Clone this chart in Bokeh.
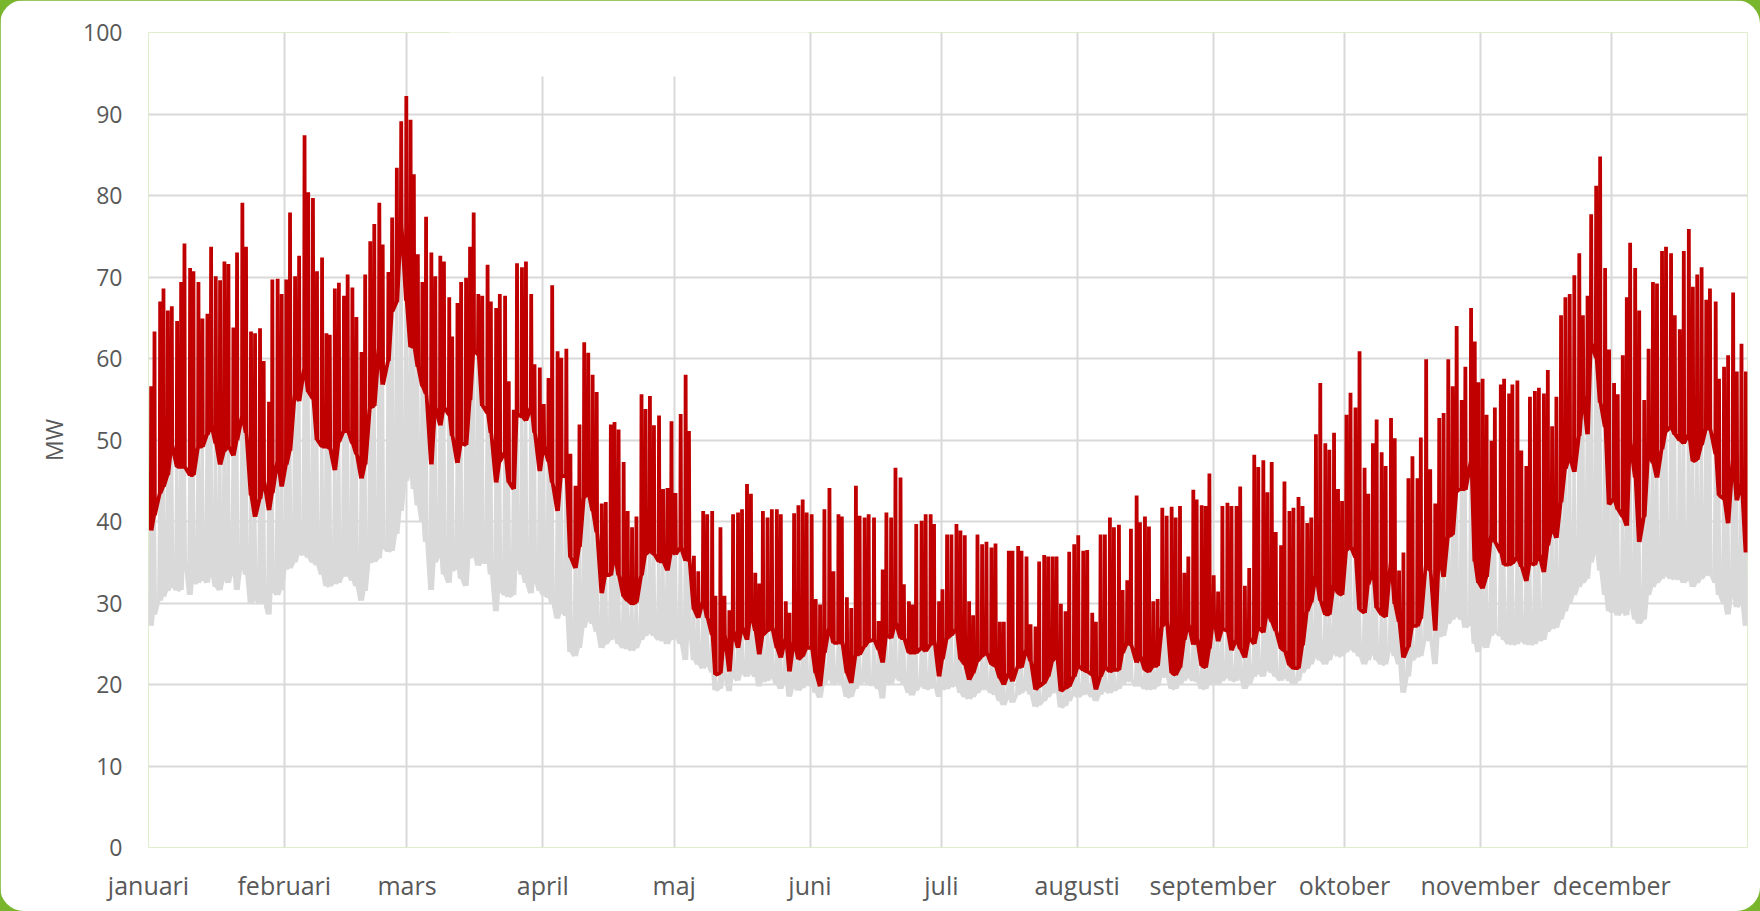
from bokeh.plotting import figure
from bokeh.models import Range1d, FixedTicker, BoxAnnotation, GlobalInlineStyleSheet
from bokeh.embed import file_html
from bokeh.resources import INLINE

# ---------------- data (MW, one entry per day) ----------------
months = ["januari", "februari", "mars", "april", "maj", "juni", "juli",
          "augusti", "september", "oktober", "november", "december"]
month_start = [0, 31, 59, 90, 120, 151, 181, 212, 243, 273, 304, 334]
days_in_month = [31, 28, 31, 30, 31, 30, 31, 31, 30, 31, 30, 31]
y_ticks = [0, 10, 20, 30, 40, 50, 60, 70, 80, 90, 100]

# time of each day's peak, in days after the start of its month
peak_offset = [
    # jan
    0.61, 1.37, 2.66, 3.42, 4.41, 5.32, 6.53, 7.45, 8.21, 9.50, 10.26, 11.40, 12.31, 13.45, 14.29, 15.35,
    16.34, 17.33, 18.24, 19.38, 20.21, 21.43, 22.26, 23.40, 24.32, 25.46, 26.29, 27.51, 28.27, 29.48, 30.40,
    # feb
    0.46, 1.31, 2.46, 3.38, 4.62, 5.46, 6.54, 7.46, 8.62, 9.62, 10.38, 11.54, 12.46, 13.62, 14.46, 15.54,
    16.46, 17.62, 18.46, 19.62, 20.54, 21.69, 22.46, 23.77, 24.62, 25.69, 26.69, 27.85,
    # mar
    0.82, 1.57, 2.48, 3.53, 4.36, 5.57, 6.47, 7.61, 8.44, 9.65, 10.32, 11.53, 12.36, 13.49, 14.40, 15.23,
    16.29, 17.19, 18.40, 19.15, 20.36, 21.19, 22.40, 23.23, 24.37, 25.12, 26.25, 27.16, 28.36, 29.12, 30.32,
    # apr
    0.23, 1.31, 2.15, 3.38, 4.23, 5.38, 6.31, 7.46, 8.38, 9.46, 10.38, 11.38, 12.31, 13.46, 14.38, 15.54,
    16.38, 17.31, 18.46, 19.38, 20.38, 21.38, 22.54, 23.46, 24.46, 25.38, 26.54, 27.46, 28.46, 29.38,
    # maj
    0.30, 1.48, 2.61, 3.37, 4.50, 5.49, 6.62, 7.53, 8.67, 9.42, 10.56, 11.47, 12.60, 13.44, 14.57, 15.48,
    16.62, 17.52, 18.51, 19.42, 20.25, 21.31, 22.29, 23.43, 24.34, 25.47, 26.31, 27.37, 28.35, 29.33, 30.24,
    # jun
    0.38, 1.30, 2.30, 3.29, 4.44, 5.36, 6.50, 7.27, 8.42, 9.41, 10.48, 11.32, 12.47, 13.39, 14.61, 15.68,
    16.60, 17.44, 18.52, 19.51, 20.66, 21.42, 22.57, 23.34, 24.25, 25.48, 26.40, 27.54, 28.31, 29.46,
    # jul
    0.23, 1.29, 2.28, 3.43, 4.34, 5.33, 6.32, 7.24, 8.23, 9.29, 10.28, 11.42, 12.34, 13.33, 14.24, 15.38,
    16.22, 17.52, 18.28, 19.42, 20.34, 21.48, 22.31, 23.46, 24.37, 25.36, 26.28, 27.27, 28.33, 29.17, 30.31,
    # aug
    0.23, 1.37, 2.28, 3.43, 4.26, 5.33, 6.32, 7.46, 8.38, 9.52, 10.36, 11.42, 12.26, 13.56, 14.32, 15.46,
    16.37, 17.36, 18.35, 19.42, 20.41, 21.55, 22.47, 23.46, 24.45, 25.36, 26.50, 27.26, 28.41, 29.33, 30.17,
    # sep
    0.15, 1.15, 2.14, 3.29, 4.21, 5.36, 6.20, 7.27, 8.26, 9.41, 10.33, 11.48, 12.40, 13.39, 14.31, 15.53,
    16.30, 17.44, 18.36, 19.51, 20.43, 21.50, 22.42, 23.49, 24.48, 25.63, 26.55, 27.62, 28.53, 29.45,
    # okt
    0.46, 1.38, 2.52, 3.44, 4.59, 5.43, 6.50, 7.34, 8.49, 9.40, 10.63, 11.47, 12.46, 13.46, 14.60, 15.52,
    16.67, 17.43, 18.65, 19.57, 20.72, 21.64, 22.63, 23.70, 24.69, 25.61, 26.76, 27.60, 28.90, 29.74, 30.58,
    # nov
    0.53, 1.44, 2.57, 3.33, 4.69, 5.44, 6.58, 7.33, 8.47, 9.37, 10.51, 11.34, 12.47, 13.38, 14.51, 15.42,
    16.40, 17.38, 18.44, 19.43, 20.41, 21.47, 22.60, 23.43, 24.49, 25.32, 26.46, 27.36, 28.50, 29.40,
    # dec
    0.54, 1.38, 2.53, 3.45, 4.21, 5.36, 6.28, 7.43, 8.42, 9.42, 10.34, 11.49, 12.40, 13.55, 14.40, 15.54,
    16.46, 17.61, 18.53, 19.52, 20.52, 21.59, 22.43, 23.74, 24.50, 25.65, 26.57, 27.72, 28.56, 29.63, 30.63,
]

# daily peak of the red series
red_peak = [
    # jan
    56.6, 63.3, 67.0, 68.6, 65.9, 66.4, 64.6, 69.4, 74.1, 71.1, 70.7, 69.4, 64.9, 65.5, 73.7, 70.1,
    69.6, 71.9, 71.6, 63.8, 73.0, 79.1, 73.7, 63.3, 63.1, 63.7, 59.7, 54.7, 69.7, 69.8, 67.9,
    # feb
    69.7, 77.9, 70.1, 72.6, 87.4, 80.4, 79.7, 70.7, 72.4, 63.1, 62.9, 68.6, 69.3, 67.7, 70.3, 68.7,
    65.1, 60.8, 70.3, 74.4, 76.5, 79.1, 74.0, 70.6, 77.3, 83.4, 89.1, 92.2,
    # mar
    89.3, 82.6, 72.8, 69.4, 77.4, 73.0, 70.1, 72.6, 71.9, 67.5, 62.7, 66.8, 69.4, 69.9, 73.7, 77.9,
    67.9, 67.7, 71.5, 67.0, 66.2, 67.9, 67.7, 57.2, 53.7, 71.7, 71.2, 71.9, 67.9, 59.3, 58.9,
    # apr
    54.4, 57.6, 69.0, 60.9, 60.1, 61.2, 48.3, 44.4, 51.9, 62.0, 60.7, 58.0, 55.9, 42.2, 42.4, 51.9,
    52.2, 51.3, 47.3, 41.3, 39.3, 40.6, 55.6, 53.8, 55.4, 51.8, 53.0, 44.0, 44.1, 52.3,
    # maj
    43.5, 53.2, 58.0, 51.1, 35.8, 33.9, 41.3, 40.9, 41.3, 30.9, 39.3, 30.9, 29.1, 40.9, 41.1, 41.5,
    44.6, 43.4, 33.7, 32.4, 41.3, 40.5, 41.5, 41.5, 40.9, 30.2, 28.8, 41.0, 42.0, 42.7, 41.1,
    # jun
    40.9, 30.5, 29.8, 41.5, 44.1, 33.9, 40.9, 40.6, 30.7, 29.4, 44.4, 40.7, 40.5, 40.9, 40.5, 27.8,
    34.1, 41.1, 40.5, 46.6, 45.4, 32.3, 30.2, 29.8, 39.7, 40.1, 40.9, 40.9, 39.7, 30.2,
    # jul
    31.7, 38.4, 38.4, 39.7, 38.9, 38.3, 30.2, 28.5, 38.4, 37.2, 37.5, 36.8, 37.3, 27.7, 27.7, 36.4,
    36.4, 37.0, 36.4, 35.7, 27.4, 27.1, 35.1, 35.9, 35.7, 35.7, 35.7, 29.9, 29.0, 36.3, 37.2,
    # aug
    38.3, 36.4, 36.5, 28.8, 27.7, 38.4, 38.4, 40.5, 39.3, 39.6, 31.6, 32.8, 39.1, 43.2, 39.9, 40.6,
    39.4, 30.2, 30.5, 41.7, 40.7, 41.8, 40.5, 41.9, 33.7, 35.7, 43.9, 42.7, 42.0, 41.9, 45.9,
    # sep
    33.4, 31.4, 41.9, 42.3, 41.9, 41.9, 44.3, 32.1, 34.3, 48.2, 46.7, 47.5, 43.6, 47.3, 38.7, 37.1,
    44.9, 41.3, 41.7, 43.0, 41.9, 39.8, 40.5, 50.7, 57.0, 49.6, 48.8, 50.9, 44.0, 42.5,
    # okt
    53.1, 55.8, 54.0, 60.9, 46.6, 43.4, 49.6, 52.5, 48.5, 46.8, 52.7, 50.2, 34.0, 36.2, 45.3, 48.0,
    45.3, 50.3, 59.9, 46.4, 42.2, 52.7, 53.3, 59.9, 56.6, 64.0, 54.9, 59.0, 66.2, 62.1, 57.1,
    # nov
    57.5, 53.1, 49.9, 54.0, 56.8, 57.5, 55.7, 56.8, 57.3, 48.7, 46.8, 55.3, 56.0, 56.4, 55.7, 58.6,
    51.7, 55.3, 65.3, 67.5, 67.9, 70.2, 72.9, 65.3, 67.7, 77.7, 81.2, 84.8, 71.1, 61.1,
    # dec
    57.0, 55.6, 60.4, 67.5, 74.2, 71.1, 65.9, 54.9, 61.2, 69.4, 69.2, 73.2, 73.7, 72.9, 65.3, 63.6,
    73.2, 75.9, 68.8, 70.3, 71.2, 67.2, 68.6, 67.0, 57.5, 59.0, 60.4, 68.1, 58.4, 61.8, 58.4,
]

# daily base level of the red series
red_base = [
    # jan
    38.9, 40.8, 43.5, 44.3, 45.7, 49.4, 46.7, 46.7, 46.7, 45.7, 45.7, 49.2, 49.2, 50.7, 51.8, 49.6,
    47.0, 48.7, 49.2, 48.1, 50.0, 52.9, 50.9, 43.2, 40.6, 42.8, 45.0, 41.4, 43.5, 47.4, 44.3,
    # feb
    47.0, 48.7, 55.7, 54.8, 58.8, 55.9, 55.1, 50.0, 49.2, 49.2, 49.0, 46.3, 49.8, 51.1, 51.1, 49.6,
    48.3, 45.3, 47.0, 54.0, 54.2, 61.4, 56.8, 59.7, 65.8, 66.9, 76.3, 67.1,
    # mar
    61.4, 61.6, 59.0, 56.6, 55.7, 47.0, 54.0, 51.8, 54.0, 53.1, 50.5, 47.2, 49.6, 49.4, 54.9, 61.0,
    60.5, 54.2, 53.3, 50.9, 44.8, 47.4, 48.5, 44.8, 44.0, 53.1, 52.9, 52.4, 54.0, 50.9, 46.2,
    # apr
    49.2, 47.4, 44.8, 41.3, 45.7, 45.5, 35.6, 34.3, 36.9, 43.0, 43.5, 41.3, 38.7, 31.2, 33.6, 33.4,
    36.0, 33.4, 30.8, 30.3, 29.9, 30.1, 33.4, 36.0, 36.4, 36.0, 35.1, 35.1, 34.0, 36.4,
    # maj
    36.0, 36.8, 35.2, 35.6, 29.2, 28.2, 30.2, 28.2, 26.1, 21.2, 21.4, 26.1, 21.6, 26.6, 24.5, 27.0,
    25.5, 28.8, 26.6, 23.7, 26.1, 26.6, 27.0, 24.5, 23.3, 25.7, 21.6, 25.3, 23.1, 23.5, 24.5,
    # jun
    24.5, 21.4, 19.8, 23.9, 27.0, 25.1, 25.1, 25.3, 21.4, 20.2, 23.7, 23.7, 24.7, 25.3, 25.5, 24.3,
    22.7, 26.1, 25.7, 27.6, 25.7, 25.7, 23.9, 23.9, 23.9, 24.5, 24.1, 24.9, 25.5, 21.0,
    # jul
    23.1, 25.7, 26.1, 26.8, 23.1, 22.5, 20.6, 21.4, 22.9, 23.5, 23.9, 22.5, 22.3, 20.8, 20.0, 21.4,
    20.4, 22.3, 22.1, 24.3, 22.9, 19.4, 19.8, 20.2, 21.0, 22.9, 23.9, 19.2, 19.6, 19.8, 21.0,
    # aug
    22.3, 21.8, 21.6, 21.2, 19.4, 21.0, 22.1, 21.6, 21.8, 21.8, 23.9, 25.1, 24.9, 22.7, 23.5, 21.8,
    21.6, 22.3, 22.3, 27.2, 27.8, 21.4, 21.2, 22.1, 25.5, 27.4, 24.9, 25.7, 22.3, 22.1, 24.4,
    # sep
    28.3, 25.3, 26.8, 26.6, 24.2, 25.5, 24.4, 23.3, 25.7, 25.0, 27.0, 26.4, 29.0, 27.7, 26.6, 24.4,
    24.2, 22.4, 22.0, 22.0, 24.8, 29.0, 30.1, 33.4, 30.3, 28.6, 28.6, 32.3, 31.2, 31.0,
    # okt
    36.5, 36.9, 35.6, 29.2, 28.8, 32.3, 34.0, 29.4, 28.6, 28.3, 35.1, 29.9, 27.7, 23.3, 24.6, 27.2,
    27.2, 28.1, 34.7, 34.0, 26.6, 36.0, 33.2, 38.2, 38.4, 43.7, 44.1, 43.9, 47.4, 35.1, 32.5,
    # nov
    31.8, 33.2, 38.4, 37.5, 36.2, 34.7, 34.7, 34.9, 35.6, 34.5, 32.7, 34.9, 34.7, 36.0, 33.8, 37.1,
    39.3, 38.0, 42.4, 46.5, 47.9, 46.1, 50.5, 55.5, 50.7, 61.9, 60.1, 54.6, 51.6, 42.1,
    # dec
    42.8, 41.5, 40.6, 39.5, 49.8, 45.4, 37.5, 40.6, 48.5, 47.2, 45.4, 48.9, 51.1, 51.6, 50.7, 50.0,
    49.6, 50.7, 47.4, 47.6, 49.4, 51.4, 51.4, 48.3, 43.2, 42.8, 39.8, 47.6, 42.6, 44.6, 36.2,
]

# daily minimum of the grey series
gray_low = [
    # jan
    27.2, 28.6, 30.3, 30.8, 31.5, 32.1, 31.6, 31.6, 35.1, 31.0, 32.5, 32.5, 33.0, 32.5, 33.8, 32.0,
    31.6, 33.0, 32.5, 34.0, 31.6, 34.7, 33.5, 29.9, 30.5, 29.9, 30.3, 28.6, 31.6, 31.0, 31.6,
    # feb
    34.3, 34.3, 35.0, 36.0, 36.0, 35.6, 35.0, 34.7, 33.5, 32.1, 32.1, 32.5, 32.5, 33.4, 33.4, 32.8,
    32.1, 30.3, 31.5, 35.1, 35.1, 35.5, 36.9, 36.4, 36.4, 38.5, 41.3, 45.0,
    # mar
    46.0, 44.0, 42.0, 40.0, 37.5, 31.6, 35.0, 36.0, 33.5, 32.5, 34.0, 34.3, 33.0, 32.1, 35.5, 36.0,
    34.6, 35.0, 35.0, 33.5, 29.0, 31.6, 31.0, 30.8, 31.0, 34.7, 33.5, 32.5, 31.2, 33.0, 31.5,
    # apr
    31.0, 30.8, 30.0, 28.1, 29.0, 28.5, 24.0, 23.5, 24.5, 27.0, 28.0, 27.5, 26.5, 24.5, 25.0, 25.5,
    26.0, 25.0, 24.5, 24.5, 24.2, 24.5, 25.5, 26.0, 26.5, 26.0, 25.5, 25.5, 25.0, 25.5,
    # maj
    26.0, 25.0, 23.0, 27.0, 23.0, 22.5, 22.0, 22.5, 21.5, 19.3, 19.5, 21.0, 19.2, 21.0, 20.5, 21.5,
    21.0, 21.5, 21.0, 19.8, 20.5, 20.5, 21.0, 20.0, 19.5, 20.5, 18.5, 19.8, 19.3, 19.6, 20.0,
    # jun
    20.0, 19.0, 18.4, 20.0, 21.0, 20.0, 20.5, 20.0, 18.5, 18.5, 19.5, 20.0, 20.5, 20.0, 20.0, 19.5,
    18.3, 20.5, 20.0, 21.0, 20.5, 20.0, 19.0, 18.7, 19.3, 20.0, 19.5, 19.5, 20.0, 18.5,
    # jul
    19.5, 19.5, 19.8, 20.0, 19.0, 18.5, 18.3, 18.5, 19.0, 19.5, 19.5, 19.0, 18.8, 18.0, 17.5, 18.5,
    17.8, 18.8, 19.0, 19.5, 18.8, 17.3, 17.5, 18.0, 18.5, 19.0, 19.3, 17.2, 17.4, 18.0, 18.8,
    # aug
    18.5, 18.8, 19.0, 18.5, 18.0, 18.8, 19.3, 19.0, 19.3, 19.5, 20.0, 20.5, 20.5, 19.8, 20.0, 19.5,
    19.5, 19.5, 19.8, 21.0, 21.0, 19.5, 19.5, 20.0, 20.5, 21.0, 20.5, 20.5, 19.5, 19.5, 20.0,
    # sep
    20.5, 20.0, 20.5, 21.0, 20.5, 20.5, 21.0, 19.5, 20.0, 21.0, 21.5, 21.0, 22.0, 21.5, 21.0, 20.5,
    21.0, 20.5, 20.0, 20.5, 21.5, 22.0, 22.5, 23.5, 23.0, 22.5, 23.0, 24.0, 23.5, 23.5,
    # okt
    24.0, 24.5, 24.0, 23.5, 22.5, 23.0, 24.0, 23.0, 22.5, 22.5, 24.5, 23.5, 22.5, 19.0, 21.0, 23.0,
    23.5, 23.5, 25.5, 25.5, 22.5, 26.0, 26.0, 27.5, 28.0, 28.5, 28.0, 27.0, 27.5, 25.0, 24.0,
    # nov
    25.0, 24.5, 26.0, 26.5, 26.0, 25.5, 25.0, 25.0, 25.0, 25.5, 25.0, 25.0, 25.0, 25.5, 25.5, 26.5,
    27.0, 27.0, 28.0, 29.0, 30.0, 31.0, 32.0, 32.5, 33.0, 35.0, 36.5, 34.0, 31.0, 29.0,
    # dec
    29.0, 28.5, 29.0, 28.5, 30.0, 28.0, 27.5, 28.0, 31.0, 32.0, 32.5, 33.0, 33.5, 33.0, 33.0, 33.0,
    32.5, 33.0, 32.0, 32.5, 33.0, 33.5, 33.5, 32.5, 31.0, 30.0, 28.6, 31.5, 29.5, 30.0, 27.2,
]

# ---------------- build line coordinates ----------------
month_of_day = []
for m, n in enumerate(days_in_month):
    month_of_day += [m] * n

n_days = min(len(red_peak), len(red_base), len(gray_low), len(peak_offset), len(month_of_day))
red_x, red_y, gray_x, gray_y = [], [], [], []
for d in range(n_days):
    t = month_start[month_of_day[d]] + peak_offset[d]
    red_x += [t - 0.09, t, t + 0.09]
    red_y += [red_base[d], red_peak[d], red_base[d]]
    gray_x += [t - 0.32, t - 0.06, t + 0.2]
    gray_y += [gray_low[d], red_base[d], gray_low[d]]

# ---------------- figure ----------------
TXT = "#595959"
GRID = "#D9D9D9"
FONT = "Open Sans"

p = figure(width=1760, height=911,
           x_range=Range1d(0, 365), y_range=Range1d(0, 100),
           output_backend="svg", toolbar_location=None,
           min_border_left=148, min_border_right=13,
           min_border_top=32, min_border_bottom=64)

p.background_fill_color = "white"
p.border_fill_color = "white"
p.outline_line_color = None
p.stylesheets = [GlobalInlineStyleSheet(css="html, body { background: #7AB52E; overflow: hidden; }")]
p.styles = {"border-radius": "24px", "overflow": "hidden"}

# grid
p.xgrid.grid_line_color = GRID
p.ygrid.grid_line_color = GRID
p.xgrid.grid_line_width = 2
p.ygrid.grid_line_width = 2

# x axis: month starts
p.xaxis.ticker = FixedTicker(ticks=month_start + [365])
overrides = {m: name for m, name in zip(month_start, months)}
overrides[365] = ""
p.xaxis.major_label_overrides = overrides

# y axis
p.yaxis.ticker = FixedTicker(ticks=y_ticks)
p.yaxis.axis_label = "MW"

for ax in (p.xaxis, p.yaxis):
    ax.axis_line_color = None
    ax.major_tick_line_color = None
    ax.minor_tick_line_color = None
    ax.major_tick_out = 0
    ax.major_tick_in = 0
    ax.major_label_text_font = FONT
    ax.major_label_text_color = TXT
    ax.axis_label_text_font = FONT
    ax.axis_label_text_font_size = "23px"
    ax.axis_label_text_font_style = "normal"
    ax.axis_label_text_color = TXT

p.xaxis.major_label_text_font_size = "25px"
p.yaxis.major_label_text_font_size = "23px"
p.xaxis.major_label_standoff = 20
p.yaxis.major_label_standoff = 26
p.yaxis.axis_label_standoff = 10

# series
p.line(gray_x, gray_y, line_color="#D9D9D9", line_width=3.5)
p.line(red_x, red_y, line_color="#C00000", line_width=3.8)

# blank patch at the top (hides part of the top gridline, as in the original)
p.add_layout(BoxAnnotation(left=68.7, right=150.6, bottom=94.6, top=101,
                           fill_color="white", fill_alpha=1.0, line_color=None))

open("out.html", "w").write(file_html(p, INLINE, title="MW"))
